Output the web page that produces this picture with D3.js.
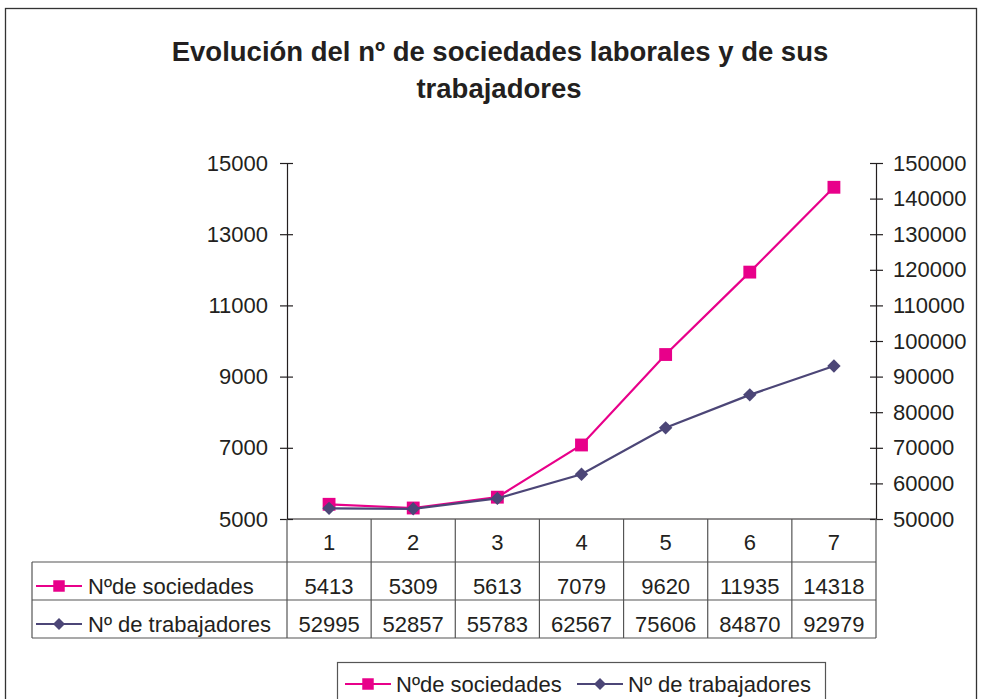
<!DOCTYPE html>
<html lang="es">
<head>
    <meta charset="UTF-8">
    <title>Evolución del nº de sociedades laborales</title>
    <script src="https://d3js.org/d3.v7.min.js"></script>
    <style>
        body { margin: 0; background: #fff; }
        svg text { font-family: "Liberation Sans", Arial, sans-serif; fill: #231f20; }
    </style>
</head>
<body>
<div id="chart"></div>
<script>
    // chart data
    const categories = ["1", "2", "3", "4", "5", "6", "7"];
    const sociedades = [5413, 5309, 5613, 7079, 9620, 11935, 14318];
    const trabajadores = [52995, 52857, 55783, 62567, 75606, 84870, 92979];
    const leftTicks = [5000, 7000, 9000, 11000, 13000, 15000];
    const rightTicks = [50000, 60000, 70000, 80000, 90000, 100000, 110000, 120000, 130000, 140000, 150000];
    const seriesNames = ["Nºde sociedades", "Nº de trabajadores"];

    const width = 983, height = 699;
    const pink = "#e8008a", purple = "#4c4677", ink = "#231f20";

    const svg = d3.select("#chart").append("svg")
        .attr("width", width)
        .attr("height", height);

    // outer frame
    svg.append("rect")
        .attr("x", 5.5).attr("y", 8.5)
        .attr("width", 971).attr("height", 700)
        .attr("fill", "none").attr("stroke", "#333").attr("stroke-width", 1.3);

    // title
    const title = svg.append("text")
        .attr("text-anchor", "middle")
        .style("font-weight", "bold")
        .style("font-size", "27.5px");
    title.append("tspan").attr("x", 500).attr("y", 61).text("Evolución del nº de sociedades laborales y de sus");
    title.append("tspan").attr("x", 499).attr("y", 98).text("trabajadores");

    const plot = { left: 287, right: 876, top: 163, bottom: 519 };

    const x = d3.scaleBand().domain(categories).range([plot.left, plot.right]);
    const yL = d3.scaleLinear().domain([5000, 15000]).range([plot.bottom, plot.top]);
    const yR = d3.scaleLinear().domain([50000, 150000]).range([plot.bottom, plot.top]);

    // axes
    const left = svg.append("g")
        .attr("transform", `translate(${plot.left},0)`)
        .call(d3.axisLeft(yL).tickValues(leftTicks).tickSize(7).tickPadding(12).tickFormat(d3.format("d")));
    const right = svg.append("g")
        .attr("transform", `translate(${plot.right},0)`)
        .call(d3.axisRight(yR).tickValues(rightTicks).tickSize(7).tickPadding(10).tickFormat(d3.format("d")));

    [left, right].forEach(a => {
        a.select(".domain").attr("stroke", ink).attr("stroke-width", 1.2);
        a.selectAll(".tick line").attr("stroke", ink).attr("stroke-width", 1.2);
        a.selectAll(".tick text").style("font-size", "22px").attr("fill", ink);
    });
    // ticks cross the axis line
    left.selectAll(".tick line").attr("x1", 6);
    right.selectAll(".tick line").attr("x1", -6);

    // category axis line
    svg.append("line")
        .attr("x1", plot.left).attr("x2", plot.right)
        .attr("y1", plot.bottom).attr("y2", plot.bottom)
        .attr("stroke", ink).attr("stroke-width", 1.2);

    // data table under the plot
    const tableLeft = 32;
    const rows = [562, 600, 638];
    const table = svg.append("g").attr("stroke", "#555").attr("stroke-width", 1.2);
    rows.forEach(r => {
        table.append("line").attr("x1", tableLeft).attr("x2", plot.right).attr("y1", r).attr("y2", r);
    });
    table.append("line").attr("x1", tableLeft).attr("x2", tableLeft).attr("y1", rows[0]).attr("y2", rows[2]);
    categories.forEach(c => {
        table.append("line").attr("x1", x(c)).attr("x2", x(c)).attr("y1", plot.bottom).attr("y2", rows[2]);
    });
    table.append("line").attr("x1", plot.right).attr("x2", plot.right).attr("y1", plot.bottom).attr("y2", rows[2]);

    svg.selectAll(".cat")
        .data(categories)
        .enter().append("text")
        .attr("x", d => x(d) + x.bandwidth() / 2)
        .attr("y", 550)
        .attr("text-anchor", "middle")
        .style("font-size", "22px")
        .text(d => d);

    // diamond = square turned 45 degrees
    const series = [
        { name: seriesNames[0], values: sociedades, y: yL, color: pink, size: 165, rot: 0, rowY: 594 },
        { name: seriesNames[1], values: trabajadores, y: yR, color: purple, size: 90, rot: 45, rowY: 632 }
    ];

    function marker(g, s, cx, cy, scale) {
        g.append("path")
            .attr("transform", `translate(${cx},${cy}) rotate(${s.rot})`)
            .attr("d", d3.symbol().type(d3.symbolSquare).size(s.size * scale)())
            .attr("fill", s.color);
    }

    function legendKey(g, s, cx, cy) {
        g.append("line")
            .attr("x1", cx - 23).attr("x2", cx + 23)
            .attr("y1", cy).attr("y2", cy)
            .attr("stroke", s.color).attr("stroke-width", 2);
        marker(g, s, cx, cy, 0.8);
    }

    series.forEach(s => {
        legendKey(svg, s, 59, s.rowY - 8);
        svg.append("text")
            .attr("x", 88).attr("y", s.rowY)
            .style("font-size", "22px")
            .text(s.name);
        svg.selectAll(null)
            .data(s.values)
            .enter().append("text")
            .attr("x", (d, i) => x(categories[i]) + x.bandwidth() / 2)
            .attr("y", s.rowY)
            .attr("text-anchor", "middle")
            .style("font-size", "22px")
            .text(d => d);
    });

    // lines and markers
    series.forEach(s => {
        const line = d3.line()
            .x((d, i) => x(categories[i]) + x.bandwidth() / 2)
            .y(d => s.y(d));
        svg.append("path")
            .datum(s.values)
            .attr("d", line)
            .attr("fill", "none")
            .attr("stroke", s.color)
            .attr("stroke-width", 2.2);
        s.values.forEach((d, i) => marker(svg, s, x(categories[i]) + x.bandwidth() / 2, s.y(d), 1));
    });

    // legend at the bottom
    const legend = svg.append("g");
    legend.append("rect")
        .attr("x", 337.5).attr("y", 662.5)
        .attr("width", 488).attr("height", 40)
        .attr("fill", "#fff").attr("stroke", "#555").attr("stroke-width", 1.2);
    const legendPos = [{ key: 368, text: 396 }, { key: 600, text: 628 }];
    series.forEach((s, i) => {
        legendKey(legend, s, legendPos[i].key, 684);
        legend.append("text")
            .attr("x", legendPos[i].text).attr("y", 692)
            .style("font-size", "22px")
            .text(s.name);
    });
</script>
</body>
</html>
